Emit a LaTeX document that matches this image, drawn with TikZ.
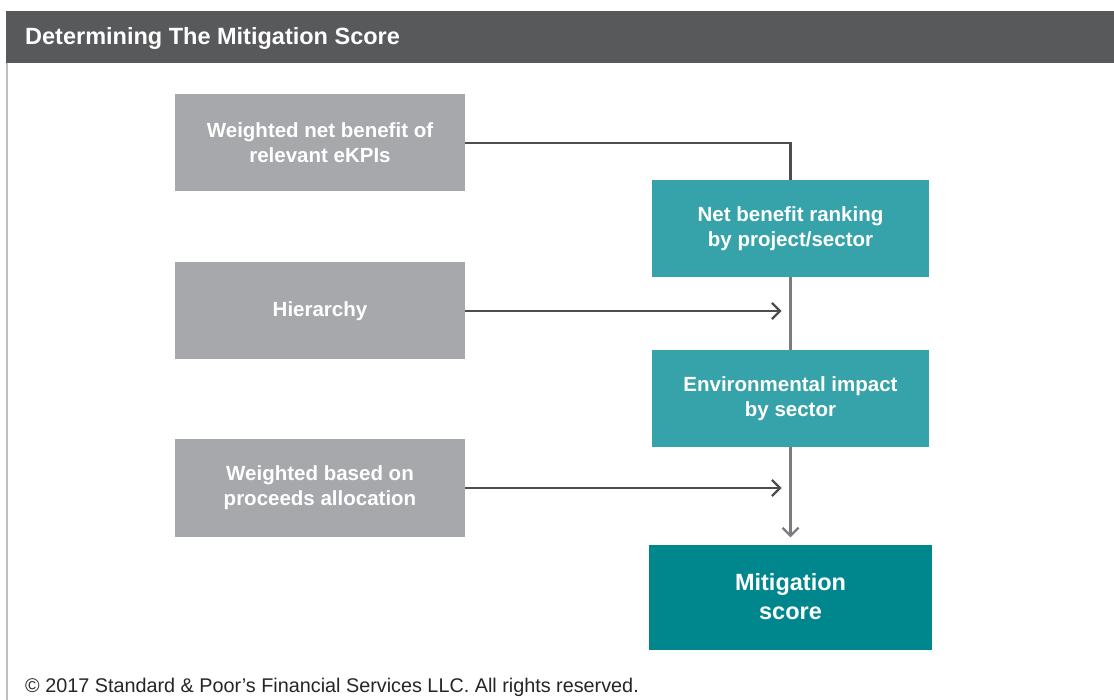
\documentclass[tikz,border=0pt]{standalone}
\usepackage{fontspec}
\setmainfont{Liberation Sans}
\usetikzlibrary{arrows.meta}
\definecolor{hdr}{HTML}{58595B}
\definecolor{grbox}{HTML}{A7A8AB}
\definecolor{tl}{HTML}{36A2A9}
\definecolor{dtl}{HTML}{00878D}
\definecolor{ln}{HTML}{4D4D4F}
\definecolor{lnv}{HTML}{7A7B7E}
\begin{document}
\begin{tikzpicture}[x=1pt,y=-1pt,
  inbox/.style={fill=grbox,minimum width=290pt,minimum height=97pt,text=white,font=\bfseries\fontsize{20.5}{25}\selectfont,align=center,inner sep=0pt},
  tealbox/.style={fill=tl,minimum width=277pt,minimum height=97pt,text=white,font=\bfseries\fontsize{20.5}{25}\selectfont,align=center,inner sep=0pt},
  finalbox/.style={fill=dtl,minimum width=283pt,minimum height=105pt,text=white,font=\bfseries\fontsize{23.5}{29}\selectfont,align=center,inner sep=0pt},
  conn/.style={draw=ln,line width=2.2pt},
  vconn/.style={draw=lnv,line width=2.2pt},
  tip/.style={-{Straight Barb[length=8pt,width=16pt,line width=2.2pt]}}]
\useasboundingbox (0,0) rectangle (1114,700);
\fill[white] (0,0) rectangle (1114,700);
% header
\fill[hdr] (6,11) rectangle (1114,63);
\node[anchor=west,text=white,font=\bfseries\fontsize{23.5}{26}\selectfont,inner sep=0pt] (title) at (25,38.5) {Determining The Mitigation Score};
\draw[draw=black!25,line width=1.6pt] (7,63) -- (7,700);
% boxes
\node[inbox] (w1) at (320,143) {Weighted net benefit of\\relevant eKPIs};
\node[inbox] (hi) at (320,311) {Hierarchy};
\node[inbox] (w3) at (320,488) {Weighted based on\\proceeds allocation};
\node[tealbox] (nb) at (790.5,228.5) {Net benefit ranking\\by project/sector};
\node[tealbox] (env) at (790.5,398.5) {Environmental impact\\by sector};
\node[finalbox] (mit) at (790.5,597) {Mitigation\\score};
% connectors
\draw[conn] (w1.east) -| (nb.north);
\draw[vconn] (nb.south) -- (env.north);
\draw[vconn,tip] (env.south) -- ([yshift=7pt]mit.north);
\draw[conn,tip] (hi.east) -- ([xshift=-9pt]hi.east -| nb.center);
\draw[conn,tip] (w3.east) -- ([xshift=-9pt]w3.east -| nb.center);
% footer
\node[anchor=west,text=black!85,font=\fontsize{19.8}{22}\selectfont,inner sep=0pt] (foot) at (25,687) {© 2017 Standard \& Poor’s Financial Services LLC. All rights reserved.};
\end{tikzpicture}
\end{document}
